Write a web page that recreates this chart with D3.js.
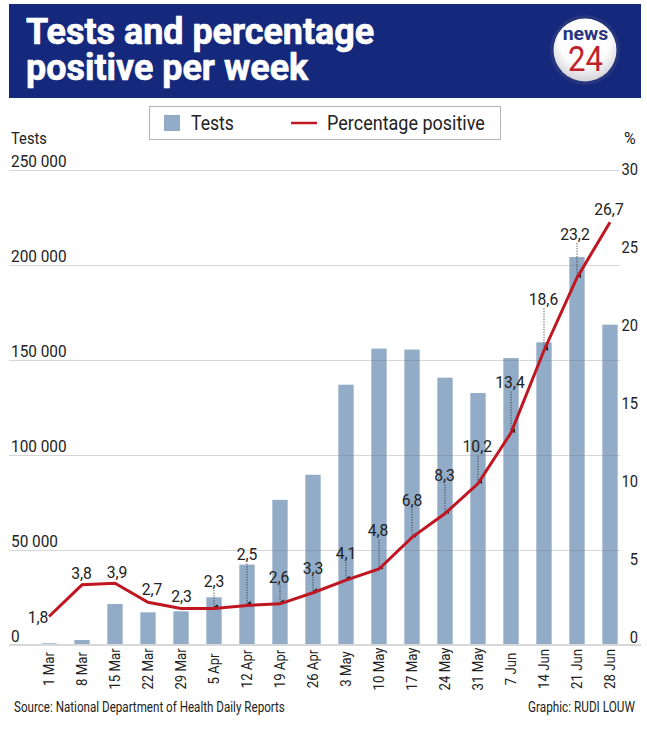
<!DOCTYPE html>
<html>
<head>
<meta charset="utf-8">
<script src="https://cdn.jsdelivr.net/npm/d3@7"></script>
<style>
  html, body { margin: 0; padding: 0; background: #fff; }
  svg { display: block; }
  text { font-family: "Roboto", sans-serif; fill: #222; }
</style>
</head>
<body>
<div id="chart"></div>
<script>
const weeks = ["1 Mar", "8 Mar", "15 Mar", "22 Mar", "29 Mar", "5 Apr", "12 Apr", "19 Apr", "26 Apr",
  "3 May", "10 May", "17 May", "24 May", "31 May", "7 Jun", "14 Jun", "21 Jun", "28 Jun"]
const tests = [900, 2600, 21600, 17200, 17700, 25100, 42300, 76400, 89600,
  137000, 156000, 155500, 140700, 132600, 151000, 159300, 204200, 168600]
const positive = [1.8, 3.8, 3.9, 2.7, 2.3, 2.3, 2.5, 2.6, 3.3, 4.1, 4.8, 6.8, 8.3, 10.2, 13.4, 18.6, 23.2, 26.7]
const testTicks = [0, 50000, 100000, 150000, 200000, 250000]
const pctTicks = [0, 5, 10, 15, 20, 25, 30]

// where each value label sits relative to its point
const labelDx = [-11, -0.5, 2, 4, 0.5, 0, 0, -1, 0, 0, -1, 0, -0.5, -0.7, -1, -0.5, -2, -1]
const labelDy = [1, -12, -11, -12.6, -12.6, -27.6, -50.7, -27, -25, -27, -38.3, -37.4, -38, -36.8, -50.3, -51.3, -43.7, -13]

const width = 647, height = 733
const barColor = "#92abc6", lineColor = "#bf1622", navy = "#14287c"
const base = 645, top_ = 170

// no condensed face is installed, so squeeze the glyphs to the width of the original
function narrow(sel, k) {
  sel.each(function() {
    this.setAttribute("lengthAdjust", "spacingAndGlyphs")
    this.setAttribute("textLength", this.getComputedTextLength() * k)
  })
  return sel
}

let svg = d3.select("#chart").append("svg")
    .attr("width", width)
    .attr("height", height)

let x = d3.scaleBand()
    .domain(weeks)
    .range([32.5, 626.5])
    .paddingInner(0.536)
    .paddingOuter(0.268)
let yTests = d3.scaleLinear().domain([0, 250000]).range([base, top_])
let yPct = d3.scaleLinear().domain([0, 30]).range([base, top_])
// the % tick labels are spaced a little tighter than the gridlines
let yPctLabel = d3.scaleLinear().domain([0, 30]).range([637, 169])
let cx = function(d) { return x(d) + x.bandwidth() / 2 }

// header
svg.append("rect")
    .attr("x", 9).attr("y", 4)
    .attr("width", 632).attr("height", 94)
    .attr("fill", navy)

narrow(svg.selectAll(".title")
    .data(["Tests and percentage", "positive per week"]).enter()
  .append("text")
    .classed("title", true)
    .attr("x", 26)
    .attr("y", function(d, i) { return 44 + i * 36 })
    .attr("font-size", 37)
    .attr("font-weight", "bold")
    .style("fill", "#fff")
    .style("stroke", "#fff")
    .style("stroke-width", 0.7)
    .text(function(d) { return d }), 0.97)

let defs = svg.append("defs")
let grad = defs.append("radialGradient").attr("id", "logo").attr("cy", "35%").attr("r", "70%")
grad.append("stop").attr("offset", "55%").attr("stop-color", "#fff")
grad.append("stop").attr("offset", "100%").attr("stop-color", "#c9c9cf")

defs.append("marker")
    .attr("id", "tip")
    .attr("viewBox", "0 0 6 5")
    .attr("refX", 3).attr("refY", 5)
    .attr("markerWidth", 5).attr("markerHeight", 4)
    .attr("markerUnits", "userSpaceOnUse")
    .attr("orient", "auto-start-reverse")
  .append("path")
    .attr("d", "M0,0L6,0L3,5Z")
    .attr("fill", "#222")

svg.append("circle").attr("cx", 585).attr("cy", 50).attr("r", 35).attr("fill", "#27357f")
svg.append("circle").attr("cx", 585).attr("cy", 50).attr("r", 31.5).attr("fill", "url(#logo)")
narrow(svg.append("text")
    .attr("x", 585.5).attr("y", 40)
    .attr("text-anchor", "middle")
    .attr("font-size", 18).attr("font-weight", "bold")
    .style("fill", "#27357f")
    .text("news"), 1.08)
narrow(svg.append("text")
    .attr("x", 585.5).attr("y", 71)
    .attr("text-anchor", "middle")
    .attr("font-size", 34.5)
    .style("fill", "#c1202b")
    .text("24"), 0.9)

// legend
svg.append("rect")
    .attr("x", 149.5).attr("y", 106.5)
    .attr("width", 351).attr("height", 33)
    .attr("fill", "#fff")
    .attr("stroke", "#b5b5b5")
svg.append("rect")
    .attr("x", 164).attr("y", 115)
    .attr("width", 16).attr("height", 16)
    .attr("fill", barColor)
svg.append("line")
    .attr("x1", 291).attr("x2", 317)
    .attr("y1", 123).attr("y2", 123)
    .attr("stroke", lineColor)
    .attr("stroke-width", 2.5)
narrow(svg.append("text").attr("x", 191).attr("y", 130).attr("font-size", 20).text("Tests"), 0.88)
narrow(svg.append("text").attr("x", 327).attr("y", 130).attr("font-size", 20).text("Percentage positive"), 0.9)

// bars
svg.selectAll(".bar")
    .data(weeks).enter()
  .append("rect")
    .classed("bar", true)
    .attr("x", function(d) { return x(d) })
    .attr("width", x.bandwidth())
    .attr("y", function(d, i) { return yTests(tests[i]) })
    .attr("height", function(d, i) { return base - yTests(tests[i]) })
    .attr("fill", barColor)

// left axis, gridlines run across the bars
let left = svg.append("g")
    .attr("transform", "translate(9,0)")
    .call(d3.axisRight(yTests)
      .tickValues(testTicks)
      .tickSize(611)
      .tickFormat(function(d) { return d3.format(",")(d).replace(",", " ") }))
left.select(".domain").remove()
left.selectAll("line")
    .attr("stroke", "#777")
    .attr("stroke-opacity", 0.3)
narrow(left.selectAll("text")
    .attr("x", 2)
    .attr("dy", -4)
    .attr("text-anchor", "start")
    .attr("font-size", 16)
    .style("font-family", "Roboto, sans-serif"), 0.96)

svg.append("line")
    .attr("x1", 9).attr("x2", 641)
    .attr("y1", base).attr("y2", base)
    .attr("stroke", "#d8d8d8")
    .attr("stroke-width", 2)

let right = svg.append("g")
    .attr("transform", "translate(638,0)")
    .call(d3.axisLeft(yPctLabel).tickValues(pctTicks).tickSize(0))
right.select(".domain").remove()
right.selectAll("line").remove()
narrow(right.selectAll("text")
    .attr("x", 0)
    .attr("text-anchor", "end")
    .attr("font-size", 16)
    .style("font-family", "Roboto, sans-serif"), 0.92)

narrow(svg.append("text").attr("x", 11).attr("y", 144).attr("font-size", 16).text("Tests"), 0.92)
narrow(svg.append("text").attr("x", 624).attr("y", 144).attr("font-size", 16).text("%"), 1)

// x axis, labels centred under the bars
let bottom = svg.append("g")
    .attr("transform", "translate(0," + base + ")")
    .call(d3.axisBottom(x).tickSize(0))
bottom.select(".domain").remove()
narrow(bottom.selectAll("text")
    .attr("transform", "translate(0,24) rotate(-90)")
    .attr("x", 0).attr("y", 0)
    .attr("dy", "0.35em")
    .attr("text-anchor", "middle")
    .attr("font-size", 14)
    .style("font-family", "Roboto, sans-serif"), 0.94)

// leaders from label to point
let leaders = weeks.filter(function(d, i) { return labelDy[i] < -20 })
svg.selectAll(".leader")
    .data(leaders).enter()
  .append("line")
    .classed("leader", true)
    .attr("x1", cx).attr("x2", cx)
    .attr("y1", function(d) { let i = weeks.indexOf(d); return yPct(positive[i]) + labelDy[i] + 9 })
    .attr("y2", function(d) { let i = weeks.indexOf(d); return yPct(positive[i]) - 2 })
    .attr("stroke", "#222")
    .attr("stroke-width", 0.8)
    .attr("stroke-dasharray", "1.2 1.4")
    .attr("marker-end", "url(#tip)")

// percentage line
let line = d3.line()
    .x(function(d) { return cx(d) })
    .y(function(d, i) { return yPct(positive[i]) })
svg.append("path")
    .attr("d", line(weeks))
    .attr("fill", "none")
    .attr("stroke", lineColor)
    .attr("stroke-width", 3)

narrow(svg.selectAll(".value")
    .data(weeks).enter()
  .append("text")
    .classed("value", true)
    .attr("x", function(d, i) { return cx(d) + labelDx[i] })
    .attr("y", function(d, i) { return yPct(positive[i]) + labelDy[i] })
    .attr("dy", "0.35em")
    .attr("text-anchor", "middle")
    .attr("font-size", 16.5)
    .text(function(d, i) { return String(positive[i]).replace(".", ",") }), 0.95)

// footer
narrow(svg.append("text")
    .attr("x", 14).attr("y", 712)
    .attr("font-size", 14)
    .text("Source: National Department of Health Daily Reports"), 0.83)
narrow(svg.append("text")
    .attr("x", 528).attr("y", 712)
    .attr("font-size", 14)
    .text("Graphic: RUDI LOUW"), 0.84)
</script>
</body>
</html>
